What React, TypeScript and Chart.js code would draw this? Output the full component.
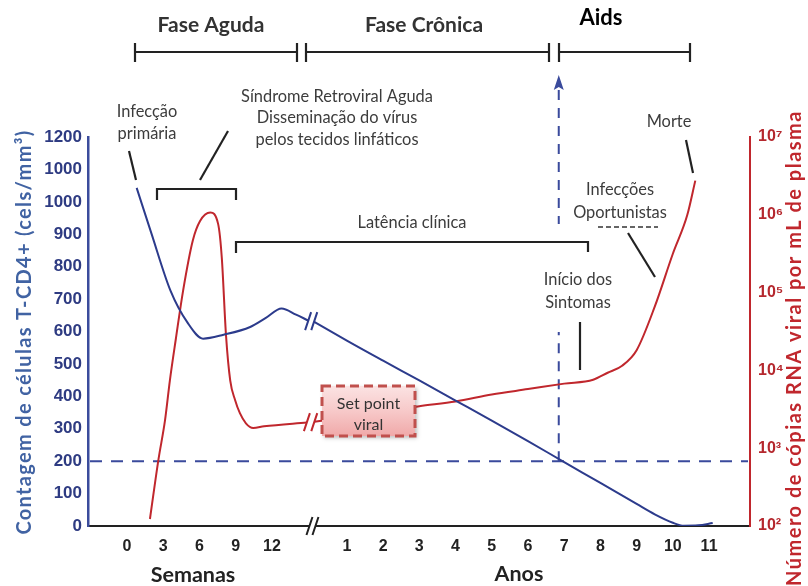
import React, { useEffect, useRef } from "react";
import { Chart, registerables } from "chart.js";

Chart.register(...registerables);

// ---------------- data ----------------
const weekTicks = [0, 3, 6, 9, 12];
const yearTicks = [1, 2, 3, 4, 5, 6, 7, 8, 9, 10, 11];
const cd4TickValues = [0, 100, 200, 300, 400, 500, 600, 700, 800, 900, 1000, 1100, 1200];
const cd4TickLabels = ["0", "100", "200", "300", "400", "500", "600", "700", "800", "900", "1000", "1000", "1200"];
const rnaTickValues = [1e2, 1e3, 1e4, 1e5, 1e6, 1e7];
const rnaTickLabels = ["10²", "10³", "10⁴", "10⁵", "10⁶", "10⁷"];

// CD4 T cells (cels/mm³)
const cd4AcuteWeeks = [0.8, 2.0, 3.6, 5.0, 6.3, 8.0, 10.2, 11.5, 12.8, 14.0, 15.0];
const cd4AcuteCounts = [1043, 905, 726, 628, 578, 590, 614, 642, 671, 652, 634];
const cd4ChronicYears = [0.1, 1, 2, 3, 4, 5, 6, 7, 8, 9, 9.5, 10, 10.3, 10.7, 11.1];
const cd4ChronicCounts = [630, 572, 510, 449, 387, 325, 262, 197, 133, 68, 36, 10, 1, 2, 9];

// viral RNA copies per mL of plasma
const rnaAcuteWeeks = [1.9, 2.6, 3.15, 3.55, 4.05, 4.65, 5.45, 6.05, 6.9, 7.55, 7.85, 8.2, 8.55, 8.95, 9.35, 9.85, 10.45, 11.35, 14.9];
const rnaAcuteCopies = [123, 708, 2290, 7410, 25700, 107000, 468000, 832000, 1070000, 759000, 282000, 28200, 7410, 4170, 2820, 2090, 1820, 1910, 2140];
const rnaChronicYears = [0.1, 1, 2, 3, 4, 5, 6, 7, 7.8, 8.2, 8.6, 9.0, 9.5, 10.0, 10.4, 10.62];
const rnaChronicCopies = [2190, 2510, 2950, 3470, 3980, 4900, 5750, 6760, 7590, 9330, 11500, 18200, 66000, 316000, 1000000, 2750000];

const aidsThreshold = 200;
const aidsOnsetYear = 6.85;

// --------------- helpers ---------------
const weekToUnit = (w: number) => w / 3;
const yearToUnit = (y: number) => y + 5.07;
const axisBreakUnit = 5.12;

const BLUE = "#2c3b8c";
const BLUE_DASH = "#3a4a9c";
const RED = "#c0272d";
const TEXT_GRAY = "#3c3c3c";
const SANS = "Lato, 'Open Sans', sans-serif";
const ARIAL = "'Liberation Sans', Arial, sans-serif";

function drawText(ctx: CanvasRenderingContext2D, s: string, x: number, y: number, font: string, color: string, fitWidth?: number) {
  ctx.save();
  ctx.font = font;
  ctx.fillStyle = color;
  ctx.textAlign = "center";
  ctx.textBaseline = "middle";
  if (fitWidth) {
    const w = ctx.measureText(s).width;
    const sp = (fitWidth - w) / Math.max(1, s.length);
    if ("letterSpacing" in ctx) (ctx as any).letterSpacing = `${sp.toFixed(2)}px`;
  }
  ctx.fillText(s, x, y);
  ctx.restore();
}

function drawPolyline(ctx: CanvasRenderingContext2D, pts: number[][], color = "#222", width = 2.2) {
  ctx.save();
  ctx.strokeStyle = color;
  ctx.lineWidth = width;
  ctx.lineCap = "butt";
  ctx.beginPath();
  pts.forEach((p, i) => (i === 0 ? ctx.moveTo(p[0], p[1]) : ctx.lineTo(p[0], p[1])));
  ctx.stroke();
  ctx.restore();
}

function breakMark(ctx: CanvasRenderingContext2D, cx: number, cy: number, color: string, gap = 6, h = 9, slant = 3) {
  ctx.save();
  ctx.fillStyle = "#fff";
  ctx.beginPath();
  ctx.moveTo(cx - gap / 2 - slant, cy + h);
  ctx.lineTo(cx - gap / 2 + slant, cy - h);
  ctx.lineTo(cx + gap / 2 + slant, cy - h);
  ctx.lineTo(cx + gap / 2 - slant, cy + h);
  ctx.closePath();
  ctx.fill();
  ctx.strokeStyle = color;
  ctx.lineWidth = 2;
  ctx.beginPath();
  ctx.moveTo(cx - gap / 2 - slant, cy + h);
  ctx.lineTo(cx - gap / 2 + slant, cy - h);
  ctx.moveTo(cx + gap / 2 - slant, cy + h);
  ctx.lineTo(cx + gap / 2 + slant, cy - h);
  ctx.stroke();
  ctx.restore();
}

function bracket(ctx: CanvasRenderingContext2D, x1: number, x2: number, y: number, up: number, down: number) {
  drawPolyline(ctx, [[x1, y - up], [x1, y + down]]);
  drawPolyline(ctx, [[x2, y - up], [x2, y + down]]);
  drawPolyline(ctx, [[x1, y], [x2, y]]);
}

const annotations = {
  id: "annotations",
  beforeDatasetsDraw(chart: any) {
    const { ctx, chartArea, scales } = chart;
    const yL = scales.y;
    const x = scales.x;
    const yy = yL.getPixelForValue(aidsThreshold);
    ctx.save();
    ctx.strokeStyle = BLUE_DASH;
    ctx.lineWidth = 2;
    ctx.setLineDash([12, 9]);
    ctx.beginPath();
    ctx.moveTo(chartArea.left + 2, yy);
    ctx.lineTo(chartArea.right - 2, yy);
    ctx.stroke();
    const ax = x.getPixelForValue(yearToUnit(aidsOnsetYear));
    ctx.setLineDash([10, 8]);
    ctx.beginPath();
    ctx.moveTo(ax, yy);
    ctx.lineTo(ax, 332);
    ctx.stroke();
    ctx.beginPath();
    ctx.moveTo(ax, 90);
    ctx.lineTo(ax, 224);
    ctx.stroke();
    ctx.setLineDash([]);
    ctx.fillStyle = BLUE_DASH;
    ctx.beginPath();
    ctx.moveTo(ax, 75);
    ctx.lineTo(ax - 5, 90);
    ctx.lineTo(ax, 87);
    ctx.lineTo(ax + 5, 90);
    ctx.closePath();
    ctx.fill();
    ctx.restore();
  },
  afterDatasetsDraw(chart: any) {
    const { ctx, scales } = chart;
    const x = scales.x;
    const yL = scales.y;
    const yR = scales.y1;

    // break marks on the curves
    const bx1 = x.getPixelForValue(weekToUnit(cd4AcuteWeeks[cd4AcuteWeeks.length - 1]));
    const bx2 = x.getPixelForValue(yearToUnit(cd4ChronicYears[0]));
    const by1 = yL.getPixelForValue(cd4AcuteCounts[cd4AcuteCounts.length - 1]);
    const by2 = yL.getPixelForValue(cd4ChronicCounts[0]);
    breakMark(ctx, (bx1 + bx2) / 2, (by1 + by2) / 2, BLUE, Math.max(5, bx2 - bx1), 9, 3);
    const rx1 = x.getPixelForValue(weekToUnit(rnaAcuteWeeks[rnaAcuteWeeks.length - 1]));
    const rx2 = x.getPixelForValue(yearToUnit(rnaChronicYears[0]));
    const ry1 = yR.getPixelForValue(rnaAcuteCopies[rnaAcuteCopies.length - 1]);
    const ry2 = yR.getPixelForValue(rnaChronicCopies[0]);
    breakMark(ctx, (rx1 + rx2) / 2, (ry1 + ry2) / 2, RED, Math.max(5, rx2 - rx1), 9, 3);
    // break on x axis
    breakMark(ctx, x.getPixelForValue(axisBreakUnit), yL.getPixelForValue(0), "#222", 6, 9, 3);

    // Set point box
    ctx.save();
    const bxl = 322, byt = 386, bw = 93, bh = 50;
    ctx.shadowColor = "rgba(0,0,0,0.25)";
    ctx.shadowBlur = 4;
    ctx.shadowOffsetX = 2;
    ctx.shadowOffsetY = 2;
    const g = ctx.createLinearGradient(0, byt, 0, byt + bh);
    g.addColorStop(0, "#fbe3e3");
    g.addColorStop(0.5, "#f7c9c9");
    g.addColorStop(1, "#f0a9a9");
    ctx.fillStyle = g;
    ctx.fillRect(bxl, byt, bw, bh);
    ctx.shadowColor = "transparent";
    ctx.strokeStyle = "#c0504d";
    ctx.lineWidth = 3;
    ctx.setLineDash([9, 5]);
    ctx.strokeRect(bxl, byt, bw, bh);
    ctx.restore();
    drawText(ctx, "Set point", bxl + bw / 2, 404, `16px ${SANS}`, "#333");
    drawText(ctx, "viral", bxl + bw / 2, 425, `16px ${SANS}`, "#333");

    // top phase brackets
    bracket(ctx, 135, 297, 52, 9, 10);
    bracket(ctx, 306, 549, 52, 9, 10);
    bracket(ctx, 559, 690, 52, 9, 10);
    drawText(ctx, "Fase Aguda", 211, 25, `bold 21px ${SANS}`, "#333");
    drawText(ctx, "Fase Crônica", 424, 25, `bold 21px ${SANS}`, "#333");
    drawText(ctx, "Aids", 601, 18, `bold 22px ${SANS}`, "#000");

    // annotation texts
    const f = `16.4px ${SANS}`;
    drawText(ctx, "Infecção", 147, 112, f, TEXT_GRAY);
    drawText(ctx, "primária", 147, 134, f, TEXT_GRAY);
    drawText(ctx, "Síndrome Retroviral Aguda", 337, 97, f, TEXT_GRAY);
    drawText(ctx, "Disseminação do vírus", 337, 118, f, TEXT_GRAY);
    drawText(ctx, "pelos tecidos linfáticos", 337, 140, f, TEXT_GRAY);
    drawText(ctx, "Latência clínica", 412, 223, f, TEXT_GRAY);
    drawText(ctx, "Infecções", 620, 190, f, TEXT_GRAY);
    drawText(ctx, "Oportunistas", 620, 213, f, TEXT_GRAY);
    drawText(ctx, "Início dos", 578, 280, f, TEXT_GRAY);
    drawText(ctx, "Sintomas", 578, 303, f, TEXT_GRAY);
    drawText(ctx, "Morte", 669, 122, f, TEXT_GRAY);

    ctx.save();
    ctx.strokeStyle = "#333";
    ctx.lineWidth = 1.5;
    ctx.setLineDash([5, 3]);
    ctx.beginPath();
    ctx.moveTo(598, 227);
    ctx.lineTo(658, 227);
    ctx.stroke();
    ctx.restore();

    // pointers
    drawPolyline(ctx, [[129, 151], [136, 180]]);
    drawPolyline(ctx, [[200, 180], [228, 131]]);
    drawPolyline(ctx, [[157, 200], [157, 189], [236, 189], [236, 200]]);
    drawPolyline(ctx, [[236, 253], [236, 242], [588, 242], [588, 252]]);
    drawPolyline(ctx, [[628, 233], [655, 277]]);
    drawPolyline(ctx, [[580, 322], [580, 370]]);
    drawPolyline(ctx, [[686, 140], [693, 173]]);

    // axis titles
    ctx.save();
    ctx.translate(25, 332);
    ctx.rotate(-Math.PI / 2);
    drawText(ctx, "Contagem de células T-CD4+ (cels/mm³)", 0, 0, `bold 20px ${SANS}`, "#4163a3", 405);
    ctx.restore();
    ctx.save();
    ctx.translate(795, 348);
    ctx.rotate(-Math.PI / 2);
    drawText(ctx, "Número de cópias RNA viral por mL de plasma", 0, 0, `bold 20px ${SANS}`, RED, 476);
    ctx.restore();
    drawText(ctx, "Semanas", 193, 575, `bold 21.5px ${SANS}`, "#222");
    drawText(ctx, "Anos", 519, 574, `bold 21.5px ${SANS}`, "#222");
  },
};

const xTickUnits = [...weekTicks.map(weekToUnit), ...yearTicks.map(yearToUnit)];
const xTickLabels = [...weekTicks.map(String), ...yearTicks.map(String)];

export default function App() {
  const ref = useRef<HTMLCanvasElement | null>(null);
  useEffect(() => {
    if (!ref.current) return;
    const line = (color: string, yAxisID: string, data: { x: number; y: number }[]) => ({
      data,
      yAxisID,
      borderColor: color,
      borderWidth: 2,
      pointRadius: 0,
      fill: false,
      cubicInterpolationMode: "monotone" as const,
    });
    const chart = new Chart(ref.current, {
      type: "line",
      data: {
        datasets: [
          line(BLUE, "y", cd4AcuteWeeks.map((w, i) => ({ x: weekToUnit(w), y: cd4AcuteCounts[i] }))),
          line(BLUE, "y", cd4ChronicYears.map((yv, i) => ({ x: yearToUnit(yv), y: cd4ChronicCounts[i] }))),
          line(RED, "y1", rnaAcuteWeeks.map((w, i) => ({ x: weekToUnit(w), y: rnaAcuteCopies[i] }))),
          line(RED, "y1", rnaChronicYears.map((yv, i) => ({ x: yearToUnit(yv), y: rnaChronicCopies[i] }))),
        ],
      },
      options: {
        animation: false,
        responsive: false,
        layout: { padding: { top: 137, left: 0, right: 0, bottom: 0 } },
        plugins: { legend: { display: false }, tooltip: { enabled: false }, title: { display: false } },
        scales: {
          x: {
            type: "linear",
            min: -1.077,
            max: 17.2,
            grid: { display: false, drawTicks: false },
            border: { display: true, color: "#222", width: 2 },
            afterBuildTicks: (s: any) => {
              s.ticks = xTickUnits.map((v) => ({ value: v }));
            },
            ticks: {
              autoSkip: false,
              maxRotation: 0,
              padding: 11,
              color: "#222",
              font: { family: ARIAL, size: 16, weight: "bold" },
              callback: (_v: any, i: number) => xTickLabels[i],
            },
            afterFit: (s: any) => {
              s.height = 60;
            },
          },
          y: {
            type: "linear",
            position: "left",
            min: 0,
            max: 1200,
            grid: { display: false, drawTicks: false },
            border: { display: true, color: "#3b4c9c", width: 2.5 },
            afterBuildTicks: (s: any) => {
              s.ticks = cd4TickValues.map((v) => ({ value: v }));
            },
            ticks: {
              padding: 6,
              color: "#2e3b82",
              font: { family: ARIAL, size: 17, weight: "bold" },
              callback: (_v: any, i: number) => cd4TickLabels[i],
            },
            afterFit: (s: any) => {
              s.width = 88;
            },
          },
          y1: {
            type: "logarithmic",
            position: "right",
            min: 100,
            max: 1e7,
            grid: { display: false, drawTicks: false },
            border: { display: true, color: RED, width: 2 },
            afterBuildTicks: (s: any) => {
              s.ticks = rnaTickValues.map((v) => ({ value: v }));
            },
            ticks: {
              padding: 8,
              color: "#b5282e",
              font: { family: ARIAL, size: 16, weight: "bold" },
              callback: (_v: any, i: number) => rnaTickLabels[i],
            },
            afterFit: (s: any) => {
              s.width = 58;
            },
          },
        },
      } as any,
      plugins: [annotations],
    });
    return () => chart.destroy();
  }, []);
  return (
    <div style={{ position: "fixed", left: 0, top: 0, width: 808, height: 586, background: "#fff" }}>
      <canvas ref={ref} width={808} height={586} style={{ display: "block" }} />
    </div>
  );
}
